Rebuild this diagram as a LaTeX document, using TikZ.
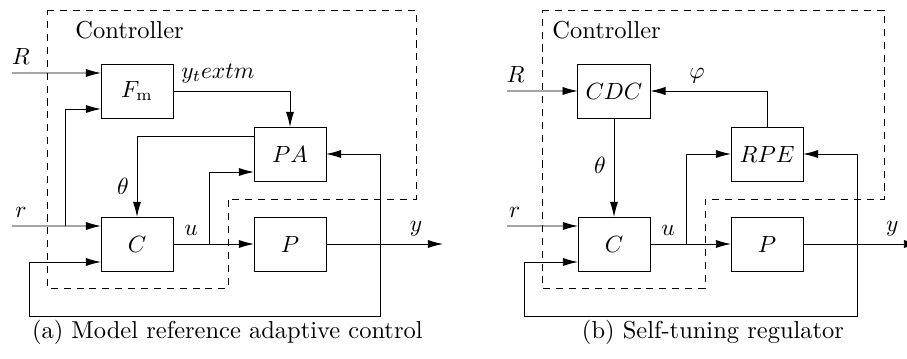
\documentclass[tikz,border=0pt]{standalone}
\usepackage{amsmath}
\usepackage{tikz}
\usetikzlibrary{arrows.meta,positioning}

\begin{document}
\begin{tikzpicture}[
	>={Latex[length=6.5pt, width=3.5pt]},
	node distance = 0pt,
	font=\fontsize{10.45}{12.5}\selectfont,
	MyBlock/.style={draw, minimum width=1.08cm, minimum height=0.81cm,
		outer sep=0pt},
	MyFrame/.style={dash pattern=on 3pt off 2.5pt},
	]
	\useasboundingbox (0,0) rectangle (13.605,5.37);

	% (a) model reference adaptive control
	\node [MyBlock] (C1) at (2.055,1.71) {$C$};
	\node [MyBlock, right=1.215cm of C1] (P1) {$P$};
	\node [MyBlock, above=1.485cm of C1] (Fm1) {$F_{\mathrm{m}}$};
	\node [MyBlock, above=0.54cm of P1] (PA1) {$PA$};

	\coordinate (R1) at (0.18,4.275);
	\coordinate (r1) at (0.18,1.98);
	\coordinate (rb1) at (0.975,1.98);
	\coordinate (u1) at (3.135,1.71);
	\coordinate (y1) at (6.645,1.71);
	\coordinate (fb1) at (5.7,0.63);
	\coordinate (fbl1) at (0.435,0.63);

	\draw[MyFrame] (0.705,5.22) -- (6.24,5.22) -- (6.24,2.385) -- (3.42,2.385)
		-- (3.42,1.05) -- (0.705,1.05) -- cycle;
	\node[anchor=west, inner sep=0pt] (ctl1) at (1.125,4.92) {Controller};

	\draw[->] (R1) -- node[pos=0.1, above] {$R$} ([yshift=0.27cm]Fm1.west);
	\draw[->] (r1) -- node[pos=0.1, above] {$r$} ([yshift=0.27cm]C1.west);
	\draw[->] (rb1) |- ([yshift=-0.27cm]Fm1.west);
	\draw[->] (Fm1.east) -| node[pos=0, above right] {$y_textm$} (PA1.north);
	\draw[->] ([yshift=0.27cm]PA1.west) -| node[pos=0.81, left] {$\theta$} (C1.north);
	\draw (C1.east) -- node[midway, above] {$u$} (u1);
	\draw[->] (u1) -- (P1.west);
	\draw[->] (u1) |- ([yshift=-0.27cm]PA1.west);
	\draw[->] (P1.east) -- node[pos=0.77, above] {$y$} (y1);
	\draw[<->] ([yshift=-0.27cm]C1.west) -| (fbl1) -- (fb1) |- (PA1.east);

	\node (cap1) at (3.41,0.39) {(a) Model reference adaptive control};

	% (b) self-tuning regulator
	\node [MyBlock] (C2) at (9.21,1.71) {$C$};
	\node [MyBlock, right=1.215cm of C2] (P2) {$P$};
	\node [MyBlock, above=1.485cm of C2] (CDC) {$CDC$};
	\node [MyBlock, above=0.54cm of P2] (RPE) {$RPE$};

	\coordinate (R2) at (7.605,4.005);
	\coordinate (r2) at (7.605,1.98);
	\coordinate (u2) at (10.29,1.71);
	\coordinate (y2) at (13.785,1.71);
	\coordinate (fb2) at (12.855,0.63);
	\coordinate (fbl2) at (7.86,0.63);

	\draw[MyFrame] (8.13,5.22) -- (13.26,5.22) -- (13.26,2.385) -- (10.575,2.385)
		-- (10.575,1.05) -- (8.13,1.05) -- cycle;
	\node[anchor=west, inner sep=0pt] (ctl2) at (8.28,4.92) {Controller};

	\draw[->] (R2) -- node[pos=0.12, above] {$R$} (CDC.west);
	\draw[->] (r2) -- node[pos=0.11, above] {$r$} ([yshift=0.27cm]C2.west);
	\draw[->] (RPE.north) |- node[pos=0.8, above] {$\varphi$} (CDC.east);
	\draw[->] (CDC.south) -- node[pos=0.475, left] {$\theta$} (C2.north);
	\draw (C2.east) -- node[midway, above] {$u$} (u2);
	\draw[->] (u2) -- (P2.west);
	\draw[->] (u2) |- (RPE.west);
	\draw[->] (P2.east) -- node[pos=0.77, above] {$y$} (y2);
	\draw[<->] ([yshift=-0.27cm]C2.west) -| (fbl2) -- (fb2) |- (RPE.east);

	\node (cap2) at (10.695,0.39) {(b) Self-tuning regulator};
\end{tikzpicture}
\end{document}
